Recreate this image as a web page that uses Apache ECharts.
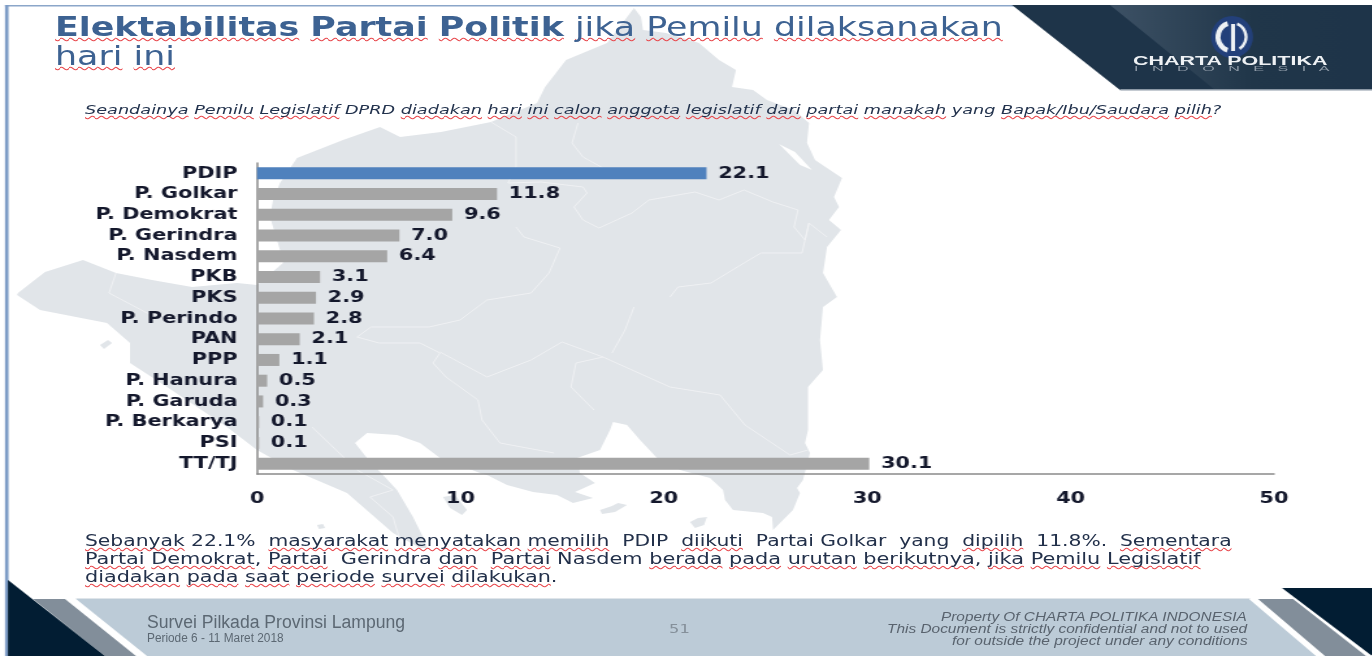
<!DOCTYPE html>
<html>
<head>
<meta charset="utf-8">
<title>Elektabilitas Partai Politik</title>
<script src="https://cdn.jsdelivr.net/npm/echarts@6/dist/echarts.min.js"></script>
<style>
    html, body { margin: 0; padding: 0; width: 1372px; height: 656px; overflow: hidden; background: #fff; }
    #chart { position: absolute; left: 0; top: 0; height: 656px; transform-origin: left top; }
    .fit {
        position: absolute;
        display: inline-block;
        white-space: pre;
        line-height: 1;
        transform-origin: left top;
        font-family: "DejaVu Sans", sans-serif;
    }
    .sq {
        text-decoration: underline wavy #e8474c;
        text-decoration-thickness: 1px;
        text-underline-offset: 1px;
        text-decoration-skip-ink: none;
    }
    .title { color: #3d6292; font-size: 27px; }
    .question { color: #22324d; font-size: 13px; font-style: italic; }
    .body { color: #22304a; font-size: 16px; }
    .foot { font-family: "Liberation Sans", sans-serif; color: #5c6873; }
    .prop { font-family: "Liberation Sans", sans-serif; color: #59636e; font-size: 12px; font-style: italic; }
</style>
</head>
<body>
<div id="chart"></div>

<div class="fit title" data-x="55" data-w="948" style="top:13px"><b class="sq">Elektabilitas</b> <b class="sq">Partai</b> <b class="sq">Politik</b> <span class="sq">jika</span> <span class="sq">Pemilu</span> <span class="sq">dilaksanakan</span></div>
<div class="fit title" data-x="55" data-w="120" style="top:42px"><span class="sq">hari</span> <span class="sq">ini</span></div>
<div class="fit question" data-x="85" data-w="1136" style="top:103px"><span class="sq">Seandainya</span> <span class="sq">Pemilu</span> <span class="sq">Legislatif</span> DPRD <span class="sq">diadakan</span> <span class="sq">hari</span> <span class="sq">ini</span> <span class="sq">calon</span> <span class="sq">anggota</span> <span class="sq">legislatif</span> <span class="sq">dari</span> <span class="sq">partai</span> <span class="sq">manakah</span> yang <span class="sq">Bapak/Ibu/Saudara</span> <span class="sq">pilih</span>?</div>
<div class="fit body" data-x="85" data-w="1147" style="top:533px"><span class="sq">Sebanyak</span> 22.1%  <span class="sq">masyarakat</span> <span class="sq">menyatakan</span> <span class="sq">memilih</span>  PDIP  <span class="sq">diikuti</span>  Partai Golkar  yang  <span class="sq">dipilih</span>  11.8%.  <span class="sq">Sementara</span></div>
<div class="fit body" data-x="85" data-w="1115" style="top:551px"><span class="sq">Partai</span> <span class="sq">Demokrat</span>, <span class="sq">Partai</span>  Gerindra <span class="sq">dan</span>  <span class="sq">Partai</span> Nasdem <span class="sq">berada</span> <span class="sq">pada</span> <span class="sq">urutan</span> <span class="sq">berikutnya</span>, <span class="sq">jika</span> <span class="sq">Pemilu</span> <span class="sq">Legislatif</span></div>
<div class="fit body" data-x="85" data-w="472" style="top:569px"><span class="sq">diadakan</span> <span class="sq">pada</span> <span class="sq">saat</span> <span class="sq">periode</span> <span class="sq">survei</span> <span class="sq">dilakukan</span>.</div>

<div class="fit foot" data-x="147" data-w="258" style="top:613px;font-size:18px">Survei Pilkada Provinsi Lampung</div>
<div class="fit foot" data-x="147" data-w="137" style="top:632px;font-size:12px">Periode 6 - 11 Maret 2018</div>
<div class="fit" data-x="669" data-w="20" style="top:623px;font-size:12px;color:#85909a;font-family:'DejaVu Sans Mono',monospace">51</div>
<div class="fit prop" data-x="941" data-w="306" style="top:611px">Property Of CHARTA POLITIKA INDONESIA</div>
<div class="fit prop" data-x="887" data-w="360" style="top:623px">This Document is strictly confidential and not to used</div>
<div class="fit prop" data-x="952" data-w="295" style="top:635px">for outside the project under any conditions</div>

<div class="fit" data-x="1133" data-w="195" style="top:54px;font:bold 12px 'Liberation Sans',sans-serif;color:#eef1f4">CHARTA POLITIKA</div>
<div class="fit" data-x="1134" data-w="196" style="top:65px;font:7px 'Liberation Sans',sans-serif;color:#8d99a6">I   N   D   O   N   E   S   I   A</div>

<script>
    const categories = ['PDIP', 'P. Golkar', 'P. Demokrat', 'P. Gerindra', 'P. Nasdem', 'PKB', 'PKS', 'P. Perindo', 'PAN', 'PPP', 'P. Hanura', 'P. Garuda', 'P. Berkarya', 'PSI', 'TT/TJ'];
    const values = [22.1, 11.8, 9.6, 7.0, 6.4, 3.1, 2.9, 2.8, 2.1, 1.1, 0.5, 0.3, 0.1, 0.1, 30.1];
    const highlighted = 'PDIP';

    const axisMin = 0;
    const axisMax = 50;
    const axisStep = 10;

    // the slide is a screenshot stretched sideways, so the chart gets the same stretch
    const stretch = 1.3;

    // decoration of the slide, in page pixels
    const mapOutline = [[634,8],[641,17],[643,30],[666,33],[699,43],[719,60],[736,70],[732,87],[753,90],[767,100],[794,110],[809,123],[807,143],[815,160],[842,178],[834,197],[839,207],[829,220],[841,230],[827,247],[823,273],[837,297],[823,307],[820,340],[823,370],[808,387],[808,430],[805,443],[810,453],[803,480],[797,488],[800,493],[793,510],[773,530],[772,517],[763,513],[733,510],[725,500],[723,490],[710,478],[680,470],[657,458],[640,440],[627,425],[613,422],[610,430],[600,450],[577,458],[580,473],[595,483],[575,492],[593,498],[573,503],[557,495],[533,492],[507,485],[487,475],[480,473],[440,458],[420,443],[397,435],[367,433],[355,443],[367,458],[383,475],[397,490],[413,517],[423,537],[427,548],[420,548],[393,533],[347,493],[293,470],[257,450],[227,427],[197,407],[167,387],[130,363],[130,343],[107,323],[40,310],[17,295],[18,293],[45,272],[83,260],[116,273],[152,280],[192,287],[237,283],[257,285],[283,263],[280,250],[270,217],[273,200],[280,183],[297,158],[343,140],[380,127],[400,137],[441,132],[491,122],[537,103],[545,87],[566,60],[607,43]];
    const mapIslands = [
        [[443,497],[455,495],[467,510],[462,515],[450,508]],
        [[600,510],[612,506],[618,503],[627,505],[615,512],[602,514]],
        [[690,522],[698,518],[707,517],[704,525],[695,528]],
        [[100,345],[108,340],[112,343],[104,349]],
        [[317,525],[323,524],[325,528],[319,529]]
    ];
    const mapBorders = [
        [[491,122],[516,137],[516,167],[508,183],[541,182],[583,187],[587,193],[574,207],[583,220],[599,228],[632,213],[649,200],[695,192],[719,200],[744,190],[773,202],[798,210],[794,227],[805,240],[809,223],[827,237]],
        [[516,227],[524,237],[560,248],[549,273],[531,293],[487,300],[460,320],[429,327],[371,327],[357,337],[379,343],[420,343],[440,353],[433,363],[446,377],[478,400],[482,420],[500,443],[554,453]],
        [[578,123],[572,143],[583,157],[603,168]],
        [[670,297],[678,287],[711,283],[744,263],[761,253],[802,253],[809,223]],
        [[440,352],[487,377],[531,360],[562,342],[603,357],[576,363],[571,387],[594,410]],
        [[603,357],[670,387],[720,395],[745,425],[790,455],[808,450]],
        [[634,307],[625,330],[612,353]],
        [[116,273],[109,293],[147,313],[192,320]],
        [[312,427],[357,470],[393,490],[370,497],[393,517],[402,547]]
    ];

    const poly = (points, fill) => ({ type: 'polygon', shape: { points: points }, style: { fill: fill }, silent: true });

    const mapColor = '#e1e5e9';
    const slideParts = [
        poly(mapOutline, mapColor),
        poly([[779,144],[795,152],[812,170],[800,165]], '#ffffff')
    ].concat(mapIslands.map(p => poly(p, mapColor)), mapBorders.map(p => ({
        type: 'polyline',
        shape: { points: p },
        style: { stroke: '#f1f3f5', lineWidth: 1, fill: null },
        silent: true
    })), [
        // frame
        { type: 'rect', shape: { x: 5, y: 5, width: 1367, height: 1.5 }, style: { fill: '#8ba6c9' }, silent: true },
        { type: 'rect', shape: { x: 5, y: 5, width: 3.5, height: 651 }, style: { fill: '#7d9cc6' }, silent: true },
        // header banner
        poly([[1012,5],[1372,5],[1372,90],[1120,90]], '#1e3449'),
        {
            type: 'polygon',
            shape: { points: [[1110,5],[1372,5],[1372,90],[1215,90]] },
            style: { fill: new echarts.graphic.LinearGradient(0, 0, 1, 0, [
                { offset: 0, color: '#3d5165' },
                { offset: 0.55, color: '#203649' },
                { offset: 1, color: '#1e3449' }
            ]) },
            silent: true
        },
        { type: 'rect', shape: { x: 1120, y: 89, width: 252, height: 1.5 }, style: { fill: '#8b98a5' }, silent: true },
        // logo
        { type: 'circle', shape: { cx: 1232, cy: 37, r: 21 }, style: { fill: '#23407a' }, silent: true },
        { type: 'arc', shape: { cx: 1232, cy: 37, r: 14, startAngle: 1.9, endAngle: 4.4, clockwise: true }, style: { stroke: '#eef1f4', lineWidth: 5, fill: null }, silent: true },
        { type: 'arc', shape: { cx: 1232, cy: 37, r: 14, startAngle: -1.2, endAngle: 1.0, clockwise: true }, style: { stroke: '#eef1f4', lineWidth: 3, fill: null }, silent: true },
        { type: 'rect', shape: { x: 1231, y: 24, width: 4, height: 27 }, style: { fill: '#eef1f4' }, silent: true },
        // footer band
        poly([[76,599],[1249,599],[1316,656],[147,656]], '#bccbd7'),
        { type: 'rect', shape: { x: 76, y: 598, width: 1174, height: 1 }, style: { fill: '#dfe5ea' }, silent: true },
        poly([[33,599],[65,599],[136,656],[105,656]], '#828e9a'),
        poly([[8,580],[105,656],[8,656]], '#021d33'),
        poly([[1258,599],[1293,599],[1366,656],[1325,656]], '#828e9a'),
        poly([[1282,588],[1372,588],[1372,656]], '#021d33')
    ]);

    const chartEl = document.getElementById('chart');
    chartEl.style.width = (1372 / stretch) + 'px';
    chartEl.style.transform = 'scaleX(' + stretch + ')';

    const myChart = echarts.init(chartEl);
    const labelFont = { color: '#14182c', fontFamily: 'DejaVu Sans', fontWeight: 'bold', fontSize: 16 };

    myChart.setOption({
        animation: false,
        backgroundColor: 'transparent',
        graphic: [{
            type: 'group',
            z: -10,
            scaleX: 1 / stretch,
            children: slideParts
        }],
        grid: {
            left: 257 / stretch,
            top: 163,
            width: 1017 / stretch,
            height: 311
        },
        xAxis: {
            type: 'value',
            min: axisMin,
            max: axisMax,
            interval: axisStep,
            splitLine: { show: false },
            axisTick: { show: false },
            axisLine: { show: true, lineStyle: { color: '#8a8a8a', width: 1.5 } },
            axisLabel: { ...labelFont, margin: 17 }
        },
        yAxis: {
            type: 'category',
            inverse: true,
            data: categories,
            axisTick: { show: false },
            axisLine: { show: true, lineStyle: { color: '#8a8a8a', width: 1.5 } },
            axisLabel: { ...labelFont, margin: 15, interval: 0, padding: [2, 0, 0, 0] }
        },
        series: [{
            type: 'bar',
            barWidth: 12,
            data: values.map((v, i) => ({
                value: v,
                itemStyle: { color: categories[i] === highlighted ? '#4f81bd' : '#a5a5a5' }
            })),
            label: {
                show: true,
                position: 'right',
                distance: 9,
                padding: [5, 0, 0, 0],
                formatter: p => p.value.toFixed(1),
                ...labelFont
            }
        }]
    });

    // squeeze or widen each line of slide text to the width it has on the slide
    document.querySelectorAll('.fit').forEach(el => {
        el.style.left = el.dataset.x + 'px';
        el.style.transform = 'scaleX(' + (el.dataset.w / el.offsetWidth) + ')';
    });
</script>
</body>
</html>
